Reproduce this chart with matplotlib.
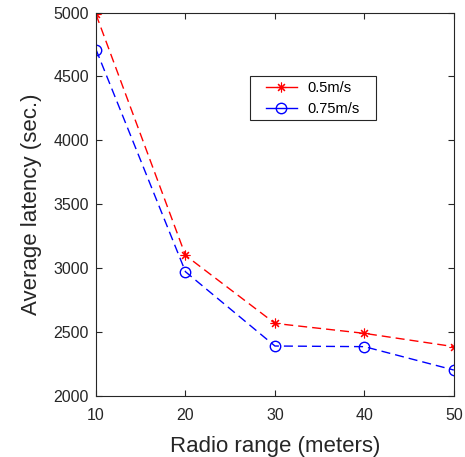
import matplotlib
matplotlib.use("Agg")
import matplotlib.pyplot as plt
from matplotlib.patches import Rectangle

plt.rcParams["font.family"] = ["Liberation Sans", "DejaVu Sans"]

radio_range = [10, 20, 30, 40, 50]
latency_05 = [4985, 3100, 2568, 2490, 2386]
latency_075 = [4710, 2972, 2391, 2386, 2203]
series_labels = ["0.5m/s", "0.75m/s"]

axis_col = "#262626"
dash = (0, (6.5, 3.6))

fig = plt.figure(figsize=(4.65, 4.57), dpi=100)
ax = fig.add_axes([0.2065, 0.1335, 0.7695, 0.8391])

ax.plot(radio_range, latency_05, color="red", linestyle=dash, linewidth=1.0,
        marker=(8, 2, 0), markersize=7, markeredgewidth=0.8, label=series_labels[0])
ax.plot(radio_range, latency_075, color="blue", linestyle=dash, linewidth=1.0,
        marker="o", markersize=7.5, markerfacecolor="none", markeredgewidth=1.0,
        label=series_labels[1])

ax.set_xlim(10, 50)
ax.set_ylim(2000, 5000)
ax.set_xticks(radio_range)
ax.set_yticks([2000, 2500, 3000, 3500, 4000, 4500, 5000])

ax.tick_params(direction="in", top=True, right=True, length=4, width=0.8,
               labelsize=11.5, colors=axis_col)
ax.tick_params(axis="x", pad=9)
ax.tick_params(axis="y", pad=5)
for sp in ax.spines.values():
    sp.set_color(axis_col)
    sp.set_linewidth(0.8)

ax.set_xlabel("Radio range (meters)", fontsize=16, color=axis_col, labelpad=9)
ax.set_ylabel("Average latency (sec.)", fontsize=16, color=axis_col, labelpad=8)

# legend box drawn separately so the padding looks like the original
box = Rectangle((0.430, 0.719), 0.352, 0.1147, transform=ax.transAxes,
                facecolor="white", edgecolor=axis_col, linewidth=0.8, zorder=4)
ax.add_patch(box)
leg = ax.legend(loc="center", bbox_to_anchor=(0.606, 0.776), fontsize=10.5,
                frameon=False, handlelength=2.1, borderpad=0.0, borderaxespad=0,
                labelspacing=0.44, handletextpad=0.75)
leg.set_zorder(5)
for h in leg.get_lines():
    h.set_linestyle("-")

fig.savefig("out.png", dpi=100)
